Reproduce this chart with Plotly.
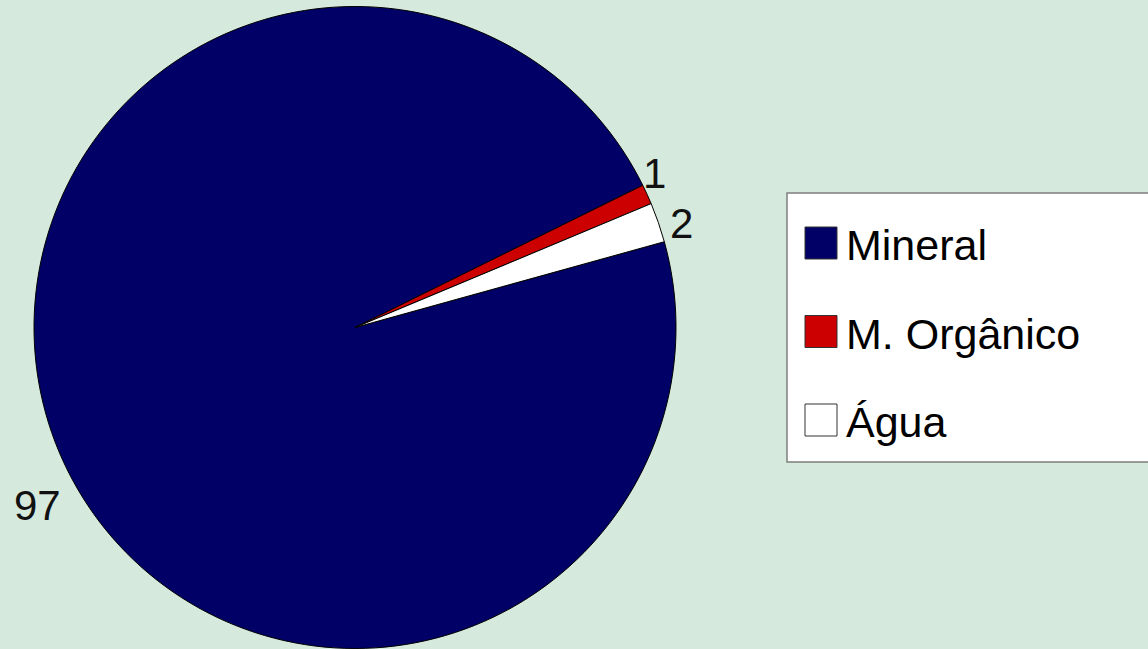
import plotly.graph_objects as go

labels = ["Mineral", "M. Orgânico", "Água"]
values = [97, 1, 2]
colors = ["#000066", "#CC0000", "#FFFFFF"]

W, H = 1148, 649
BG = "#D5E9DD"
FONT = "Arial, Liberation Sans, sans-serif"

# pie box in pixels (centre and radius)
CX, CY, R = 355, 327.5, 321

fig = go.Figure()
fig.add_trace(go.Pie(
    labels=labels,
    values=values,
    sort=False,
    direction="clockwise",
    rotation=74.5,
    marker=dict(colors=colors, line=dict(color="#000000", width=1)),
    textinfo="none",
    domain=dict(x=[(CX - R) / W, (CX + R) / W], y=[1 - (CY + R) / H, 1 - (CY - R) / H]),
    showlegend=False,
    hoverinfo="label+value",
))

# data labels placed beside their slices (Excel-style positions)
label_pos = [(37, 505), (654, 173), (681, 223)]
annotations = []
for v, (px, py) in zip(values, label_pos):
    annotations.append(dict(text=str(v), xref="paper", yref="paper",
                            x=px / W, y=1 - py / H, xanchor="center", yanchor="middle",
                            showarrow=False, font=dict(family=FONT, size=42, color="#111111")))

# legend drawn as shapes + annotations
leg_x0, leg_x1 = 787 / W, 1.01
leg_top, leg_bot = 1 - 193 / H, 1 - 462 / H
shapes = [dict(type="rect", xref="paper", yref="paper",
               x0=leg_x0, x1=leg_x1, y0=leg_bot, y1=leg_top,
               fillcolor="#FFFFFF", line=dict(color="#7F7F7F", width=1.5), layer="below")]
first_c, step = 243, 88.5
sq = 32
for i, (lab, col) in enumerate(zip(labels, colors)):
    cy = first_c + i * step
    shapes.append(dict(type="rect", xref="paper", yref="paper",
                       x0=805 / W, x1=(805 + sq) / W,
                       y0=1 - (cy + sq / 2) / H, y1=1 - (cy - sq / 2) / H,
                       fillcolor=col, line=dict(color="#333333", width=1)))
    annotations.append(dict(text=lab, xref="paper", yref="paper",
                            x=844 / W, y=1 - (cy + 2) / H, xanchor="left", yanchor="middle",
                            showarrow=False, font=dict(family=FONT, size=43, color="#000000")))

fig.update_layout(
    width=W, height=H,
    margin=dict(l=0, r=0, t=0, b=0),
    paper_bgcolor=BG, plot_bgcolor=BG,
    shapes=shapes, annotations=annotations,
    showlegend=False,
)

fig.write_html("out.html")
